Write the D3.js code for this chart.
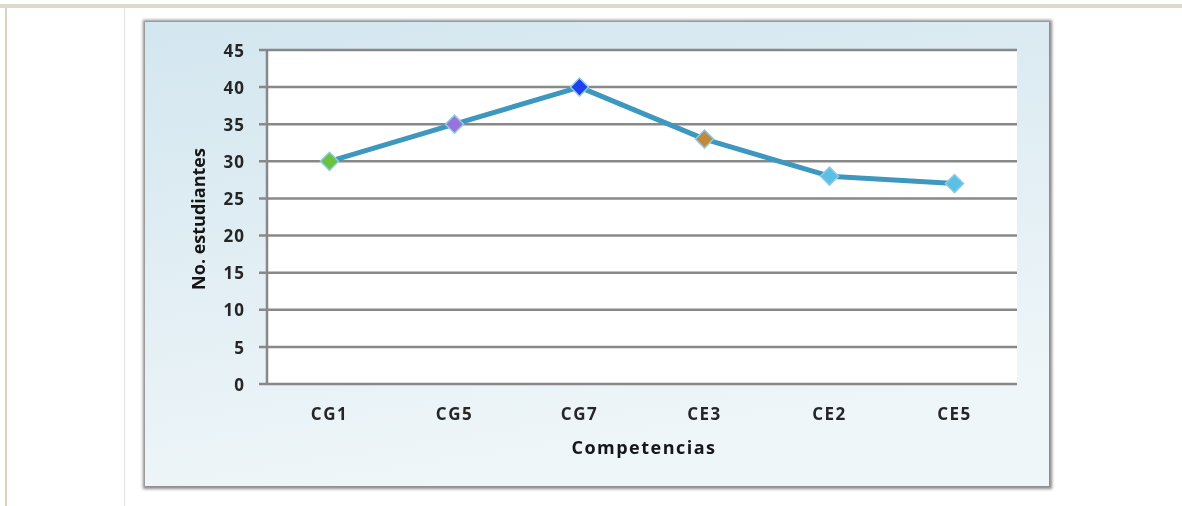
<!DOCTYPE html>
<html>
<head>
<meta charset="utf-8">
<script src="https://cdn.jsdelivr.net/npm/d3@7"></script>
<style>
  body { margin: 0; background: #fff; }
  svg { display: block; }
  .tick text { font-family: "Open Sans", sans-serif; font-weight: 700; fill: #262626; }
  .lbl { font-family: "Open Sans", sans-serif; font-weight: 700; fill: #151515; }
</style>
</head>
<body>
<svg id="chart" width="1182" height="506"></svg>
<script>
// data
var categories = ["CG1", "CG5", "CG7", "CE3", "CE2", "CE5"];
var values = [30, 35, 40, 33, 28, 27];
var yTicks = [0, 5, 10, 15, 20, 25, 30, 35, 40, 45];

var markerColors = ["#6cc23c", "#9a72dc", "#1d40f2", "#bf8a3c", "#5cbfe6", "#5cbfe6"];

function drawChart() {
    var svg = d3.select("#chart");
    var defs = svg.append("defs");

    var grad = defs.append("linearGradient")
        .attr("id", "bg").attr("x1", 0).attr("y1", 0).attr("x2", 0.3).attr("y2", 1);
    grad.append("stop").attr("offset", "0%").attr("stop-color", "#d3e6ef");
    grad.append("stop").attr("offset", "100%").attr("stop-color", "#eff6f9");

    var soft = defs.append("filter").attr("id", "soft");
    soft.append("feGaussianBlur").attr("stdDeviation", 0.6);

    var shadow = defs.append("filter").attr("id", "shadow")
        .attr("x", "-5%").attr("y", "-5%").attr("width", "110%").attr("height", "110%");
    shadow.append("feGaussianBlur").attr("stdDeviation", 1.5);

    // page frame bits
    svg.append("rect").attr("x", 0).attr("y", 4).attr("width", 1182).attr("height", 4).attr("fill", "#dcdbc9");
    svg.append("rect").attr("x", 5).attr("y", 8).attr("width", 2).attr("height", 498).attr("fill", "#d8d5bd");
    svg.append("rect").attr("x", 124).attr("y", 8).attr("width", 1).attr("height", 498).attr("fill", "#e2e2e2");

    // chart box with shadow
    svg.append("rect").attr("x", 143).attr("y", 20).attr("width", 909).attr("height", 469)
        .attr("fill", "#8a8a8a").attr("filter", "url(#shadow)");
    svg.append("rect").attr("x", 145).attr("y", 22).attr("width", 904).attr("height", 464)
        .attr("fill", "url(#bg)");

    var g = svg.append("g").attr("filter", "url(#soft)");

    var left = 267, right = 1017, top = 50, bottom = 384;

    var x = d3.scaleBand().domain(categories).range([left, right]);
    var y = d3.scaleLinear().domain([0, 45]).range([bottom, top]);

    g.append("rect").attr("x", left).attr("y", top)
        .attr("width", right - left).attr("height", bottom - top).attr("fill", "#fff");

    // grid
    g.append("g")
        .selectAll("line").data(yTicks).enter().append("line")
        .attr("x1", left - 8).attr("x2", right)
        .attr("y1", function(d) { return y(d); })
        .attr("y2", function(d) { return y(d); })
        .attr("stroke", "#888").attr("stroke-width", 2.5);

    var yAxis = g.append("g")
        .attr("transform", "translate(" + (left - 22) + ",0)")
        .call(d3.axisLeft(y).tickValues(yTicks).tickSize(0).tickPadding(0));
    yAxis.select(".domain").remove();
    yAxis.selectAll("text").attr("font-size", 17).attr("letter-spacing", 1).attr("dy", "0.36em");

    g.append("line").attr("x1", left).attr("x2", left).attr("y1", top).attr("y2", bottom)
        .attr("stroke", "#888").attr("stroke-width", 2.5);

    var xAxis = g.append("g")
        .attr("transform", "translate(0," + bottom + ")")
        .call(d3.axisBottom(x).tickSize(0).tickPadding(24));
    xAxis.select(".domain").remove();
    xAxis.selectAll("text").attr("font-size", 17).attr("letter-spacing", 1.5).attr("fill", "#333");

    var pts = categories.map(function(c, i) {
        return { cat: c, v: values[i], color: markerColors[i] };
    });

    var line = d3.line()
        .x(function(d) { return x(d.cat) + x.bandwidth() / 2; })
        .y(function(d) { return y(d.v); });

    g.append("path").datum(pts)
        .attr("d", line)
        .attr("fill", "none")
        .attr("stroke", "#3d97bf")
        .attr("stroke-width", 5)
        .attr("stroke-linejoin", "round");

    var diamond = d3.symbol().type(d3.symbolDiamond2).size(210);
    g.selectAll(".mk").data(pts).enter().append("path")
        .attr("class", "mk")
        .attr("d", diamond)
        .attr("transform", function(d) {
            return "translate(" + (x(d.cat) + x.bandwidth() / 2) + "," + y(d.v) + ")";
        })
        .attr("fill", function(d) { return d.color; })
        .attr("stroke", "#8ccbe6")
        .attr("stroke-width", 1.5);

    g.append("text").attr("class", "lbl")
        .attr("x", (left + right) / 2 + 2).attr("y", 454)
        .attr("text-anchor", "middle").attr("font-size", 18).attr("letter-spacing", 1.5)
        .text("Competencias");

    g.append("text").attr("class", "lbl")
        .attr("transform", "translate(205," + ((top + bottom) / 2 + 2) + ") rotate(-90)")
        .attr("text-anchor", "middle").attr("font-size", 18)
        .text("No. estudiantes");
}

drawChart();
</script>
</body>
</html>
